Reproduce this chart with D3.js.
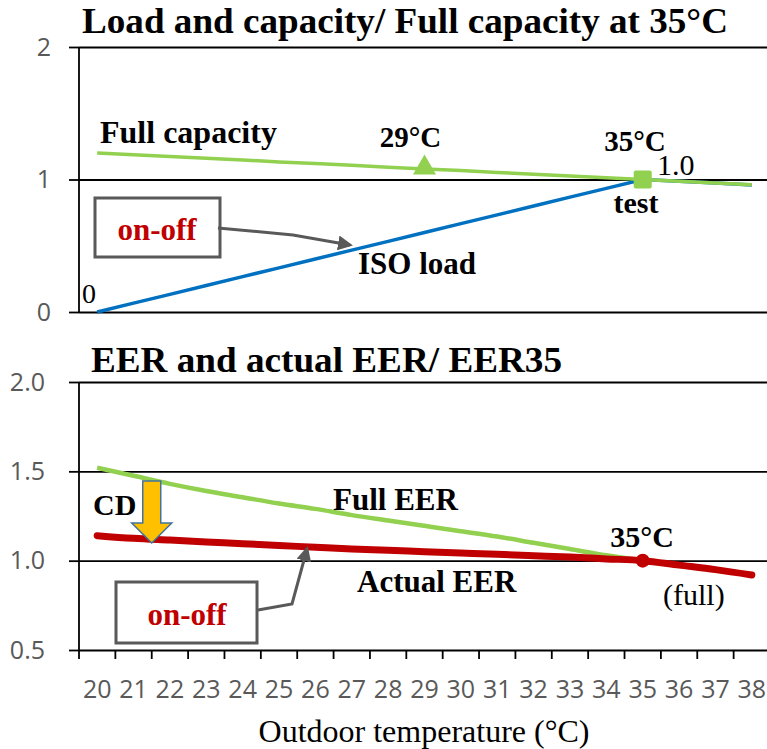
<!DOCTYPE html>
<html lang="en">

<head>
    <meta charset="UTF-8">
    <title>Load, capacity and EER</title>
    <script src="https://cdn.jsdelivr.net/npm/d3@7"></script>

    <style>
        body { margin: 0; background: #fff; }
        svg { display: block; }
        .serif { font-family: "Liberation Serif", "Times New Roman", serif; fill: #000; }
        .bold { font-weight: bold; }
        .tick text { font-family: "Open Sans", "Liberation Sans", sans-serif; fill: #595959; }
        .grid line { stroke: #000; stroke-width: 1.8px; }
        .grid path { display: none; }
    </style>
</head>

<body>

    <svg width="767" height="749"></svg>

    <script>

        // categories (outdoor temperature, °C)
        var temps = [20, 21, 22, 23, 24, 25, 26, 27, 28, 29, 30, 31, 32, 33, 34, 35, 36, 37, 38];

        // top panel: ratio to full capacity at 35°C
        var fullCapacity = [1.20, 1.187, 1.173, 1.16, 1.147, 1.133, 1.12, 1.107, 1.093, 1.08,
                            1.067, 1.053, 1.04, 1.027, 1.013, 1.0, 0.987, 0.973, 0.96];
        var isoLoad = [0, 0.067, 0.133, 0.2, 0.267, 0.333, 0.4, 0.467, 0.533, 0.6,
                       0.667, 0.733, 0.8, 0.867, 0.933, 1.0, 0.987, 0.973, 0.958];

        // bottom panel: ratio to EER at 35°C
        var fullEER = [1.52, 1.475, 1.43, 1.39, 1.355, 1.32, 1.29, 1.255, 1.225, 1.195,
                       1.165, 1.135, 1.10, 1.065, 1.03, 1.0];
        var actualEER = [1.14, 1.125, 1.115, 1.105, 1.095, 1.085, 1.075, 1.065, 1.058, 1.05,
                         1.043, 1.036, 1.028, 1.02, 1.01, 1.0, 0.975, 0.95, 0.92];

        var topTicks = [0, 1, 2];
        var bottomTicks = [0.5, 1.0, 1.5, 2.0];

        var svg = d3.select("svg");

        var left = 79, right = 770;

        var x = d3.scaleBand()
            .domain(temps)
            .range([left, right])
            .paddingInner(0)
            .paddingOuter(0);
        var bw = x.bandwidth();
        function cx(t) { return x(t) + bw / 2; }

        var yTop = d3.scaleLinear().domain([0, 2]).range([312, 47]);
        var yBot = d3.scaleLinear().domain([0.5, 2.0]).range([650, 382]);

        // arrow head marker
        svg.append("defs").append("marker")
            .attr("id", "head")
            .attr("viewBox", "0 0 10 10")
            .attr("refX", 8)
            .attr("refY", 5)
            .attr("markerWidth", 5)
            .attr("markerHeight", 5)
            .attr("markerUnits", "strokeWidth")
            .attr("orient", "auto")
            .append("path")
            .attr("d", "M0,0 L10,5 L0,10 Z")
            .attr("fill", "#595959");

        // ---------- top panel ----------
        var gTop = svg.append("g");

        gTop.append("g")
            .attr("class", "grid")
            .attr("transform", "translate(" + left + ",0)")
            .call(d3.axisLeft(yTop).tickValues(topTicks).tickSizeInner(-(right - left)).tickSizeOuter(0).tickFormat(""));

        gTop.append("g")
            .attr("class", "grid")
            .attr("transform", "translate(" + left + ",0)")
            .call(d3.axisLeft(yTop).tickValues(topTicks).tickSize(10).tickPadding(18).tickFormat(d3.format("d")))
            .selectAll("text").style("font-size", "25px");

        gTop.append("line")
            .attr("x1", left).attr("x2", left)
            .attr("y1", yTop(2)).attr("y2", yTop(0))
            .attr("stroke", "#000").attr("stroke-width", 1.8);

        var lineTop = d3.line()
            .x(function(d, i) { return cx(temps[i]); })
            .y(function(d) { return yTop(d); });

        gTop.append("path")
            .datum(isoLoad)
            .attr("d", lineTop)
            .attr("fill", "none")
            .attr("stroke", "#0070C0")
            .attr("stroke-width", 3.5);

        gTop.append("path")
            .datum(fullCapacity)
            .attr("d", lineTop)
            .attr("fill", "none")
            .attr("stroke", "#92D050")
            .attr("stroke-width", 3.5);

        // 29°C triangle marker
        gTop.append("path")
            .attr("d", d3.symbol().type(d3.symbolTriangle).size(230)())
            .attr("transform", "translate(" + cx(29) + "," + (yTop(fullCapacity[9]) - 1) + ")")
            .attr("fill", "#92D050");

        // 35°C square marker
        gTop.append("rect")
            .attr("x", cx(35) - 9).attr("y", yTop(1) - 9)
            .attr("width", 18).attr("height", 18)
            .attr("rx", 2)
            .attr("fill", "#92D050");

        gTop.append("text").attr("class", "serif bold")
            .attr("x", 82).attr("y", 33)
            .attr("textLength", 646)
            .attr("lengthAdjust", "spacingAndGlyphs")
            .style("font-size", "35px")
            .text("Load and capacity/ Full capacity at 35°C");

        gTop.append("text").attr("class", "serif bold")
            .attr("x", 100).attr("y", 143)
            .style("font-size", "32px")
            .text("Full capacity");

        gTop.append("text").attr("class", "serif bold")
            .attr("x", cx(29) - 14).attr("y", 147)
            .attr("text-anchor", "middle")
            .style("font-size", "29px")
            .text("29°C");

        gTop.append("text").attr("class", "serif bold")
            .attr("x", 635).attr("y", 151)
            .attr("text-anchor", "middle")
            .style("font-size", "29px")
            .text("35°C");

        gTop.append("text").attr("class", "serif")
            .attr("x", 657).attr("y", 175)
            .style("font-size", "30px")
            .text("1.0");

        gTop.append("text").attr("class", "serif bold")
            .attr("x", 636).attr("y", 213)
            .attr("text-anchor", "middle")
            .style("font-size", "30px")
            .text("test");

        gTop.append("text").attr("class", "serif bold")
            .attr("x", 358).attr("y", 274)
            .style("font-size", "31px")
            .text("ISO load");

        gTop.append("text").attr("class", "serif")
            .attr("x", 82).attr("y", 303)
            .style("font-size", "28px")
            .text("0");

        gTop.append("rect")
            .attr("x", 95).attr("y", 198)
            .attr("width", 125).attr("height", 59)
            .attr("fill", "#fff")
            .attr("stroke", "#595959")
            .attr("stroke-width", 3);

        gTop.append("text").attr("class", "serif bold")
            .attr("x", 157).attr("y", 240)
            .attr("text-anchor", "middle")
            .style("font-size", "31px")
            .style("fill", "#C00000")
            .text("on-off");

        gTop.append("path")
            .attr("d", "M218,228 L293,235 L350,245")
            .attr("fill", "none")
            .attr("stroke", "#595959")
            .attr("stroke-width", 3)
            .attr("marker-end", "url(#head)");

        // ---------- bottom panel ----------
        var gBot = svg.append("g");

        gBot.append("g")
            .attr("class", "grid")
            .attr("transform", "translate(" + left + ",0)")
            .call(d3.axisLeft(yBot).tickValues(bottomTicks).tickSizeInner(-(right - left)).tickSizeOuter(0).tickFormat(""));

        gBot.append("g")
            .attr("class", "grid")
            .attr("transform", "translate(" + left + ",0)")
            .call(d3.axisLeft(yBot).tickValues(bottomTicks).tickSize(10).tickPadding(24).tickFormat(d3.format(".1f")))
            .selectAll("text").style("font-size", "25px");

        gBot.append("line")
            .attr("x1", left).attr("x2", left)
            .attr("y1", yBot(2)).attr("y2", yBot(0.5))
            .attr("stroke", "#000").attr("stroke-width", 1.8);

        // x axis: labels at category centres, ticks at band edges
        var xAxis = gBot.append("g")
            .attr("class", "grid")
            .attr("transform", "translate(0," + yBot(0.5) + ")")
            .call(d3.axisBottom(x).tickSize(0).tickPadding(30));
        xAxis.selectAll("text").style("font-size", "25px");

        gBot.selectAll(".xtick")
            .data(temps.concat([null]))
            .enter().append("line")
            .attr("class", "xtick")
            .attr("x1", function(d, i) { return left + i * bw; })
            .attr("x2", function(d, i) { return left + i * bw; })
            .attr("y1", yBot(0.5))
            .attr("y2", yBot(0.5) + 9)
            .attr("stroke", "#000")
            .attr("stroke-width", 1.8);

        var lineBot = d3.line()
            .x(function(d, i) { return cx(temps[i]); })
            .y(function(d) { return yBot(d); })
            .curve(d3.curveMonotoneX);

        gBot.append("path")
            .datum(fullEER)
            .attr("d", lineBot)
            .attr("fill", "none")
            .attr("stroke", "#92D050")
            .attr("stroke-width", 4.5);

        gBot.append("path")
            .datum(actualEER)
            .attr("d", lineBot)
            .attr("fill", "none")
            .attr("stroke", "#C00000")
            .attr("stroke-width", 7)
            .attr("stroke-linecap", "round");

        gBot.append("circle")
            .attr("cx", cx(35)).attr("cy", yBot(1.0))
            .attr("r", 7)
            .attr("fill", "#C00000");

        // CD arrow between the two curves
        var ax = x(22), aTop = 481, aShaft = 523, aTip = 543;
        gBot.append("path")
            .attr("d", "M" + (ax - 9) + "," + aTop + " L" + (ax + 9) + "," + aTop +
                " L" + (ax + 9) + "," + aShaft + " L" + (ax + 20) + "," + aShaft +
                " L" + ax + "," + aTip + " L" + (ax - 20) + "," + aShaft +
                " L" + (ax - 9) + "," + aShaft + " Z")
            .attr("fill", "#FFC000")
            .attr("stroke", "#41719C")
            .attr("stroke-width", 1.5);

        gBot.append("text").attr("class", "serif bold")
            .attr("x", 91).attr("y", 372)
            .attr("textLength", 471)
            .attr("lengthAdjust", "spacingAndGlyphs")
            .style("font-size", "35px")
            .text("EER and actual EER/ EER35");

        gBot.append("text").attr("class", "serif bold")
            .attr("x", 93).attr("y", 515)
            .style("font-size", "30px")
            .text("CD");

        gBot.append("text").attr("class", "serif bold")
            .attr("x", 333).attr("y", 510)
            .style("font-size", "31px")
            .text("Full EER");

        gBot.append("text").attr("class", "serif bold")
            .attr("x", 642).attr("y", 547)
            .attr("text-anchor", "middle")
            .style("font-size", "30px")
            .text("35°C");

        gBot.append("text").attr("class", "serif bold")
            .attr("x", 357).attr("y", 592)
            .style("font-size", "31px")
            .text("Actual EER");

        gBot.append("text").attr("class", "serif")
            .attr("x", 663).attr("y", 605)
            .style("font-size", "30px")
            .text("(full)");

        gBot.append("rect")
            .attr("x", 116).attr("y", 582)
            .attr("width", 141).attr("height", 61)
            .attr("fill", "#fff")
            .attr("stroke", "#595959")
            .attr("stroke-width", 3);

        gBot.append("text").attr("class", "serif bold")
            .attr("x", 187).attr("y", 625)
            .attr("text-anchor", "middle")
            .style("font-size", "31px")
            .style("fill", "#C00000")
            .text("on-off");

        gBot.append("path")
            .attr("d", "M258,610 L292,604 L307,549")
            .attr("fill", "none")
            .attr("stroke", "#595959")
            .attr("stroke-width", 3)
            .attr("marker-end", "url(#head)");

        svg.append("text").attr("class", "serif")
            .attr("x", 424).attr("y", 742)
            .attr("text-anchor", "middle")
            .style("font-size", "32px")
            .text("Outdoor temperature (°C)");

    </script>

</body>

</html>
